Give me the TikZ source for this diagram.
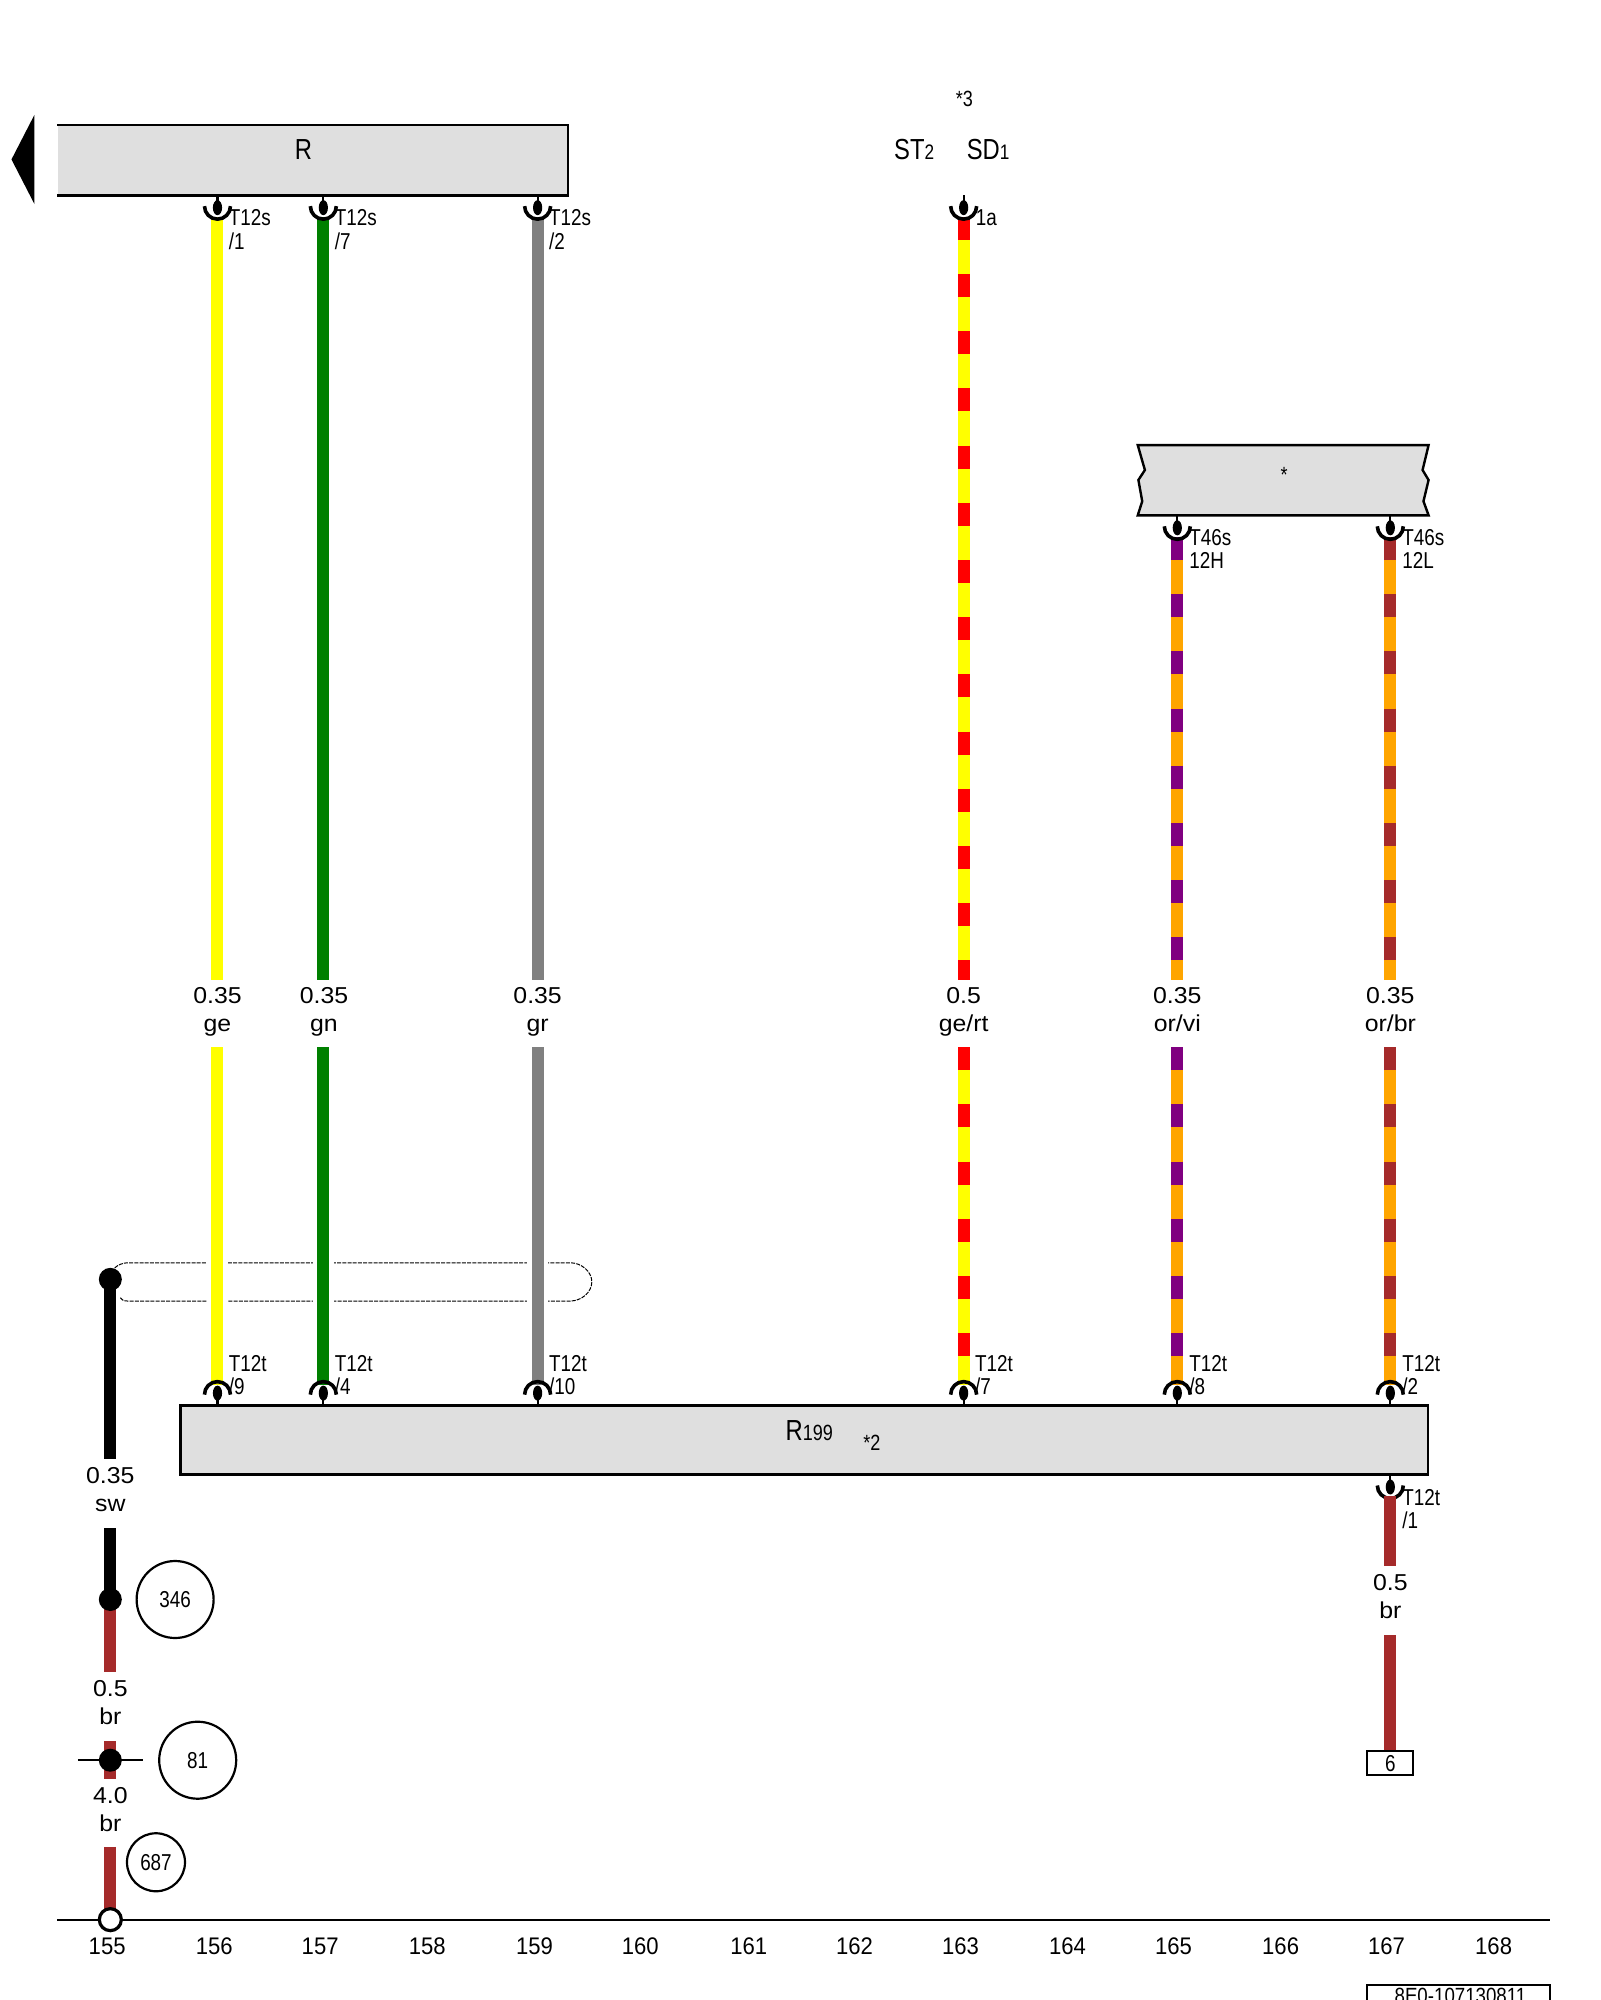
\documentclass[tikz,border=0pt]{standalone}
\usepackage{fontspec}
\setmainfont{Liberation Sans}
\newfontfamily\nf[FakeStretch=0.82]{Liberation Sans}
\newfontfamily\wf[FakeStretch=1.08]{Liberation Sans}
\newfontfamily\af[FakeStretch=0.92]{Liberation Sans}
\definecolor{boxgray}{HTML}{DFDFDF}
\definecolor{wyellow}{HTML}{FFFF00}
\definecolor{wred}{HTML}{FF0000}
\definecolor{wgreen}{HTML}{008000}
\definecolor{wgray}{HTML}{808080}
\definecolor{wpurple}{HTML}{800080}
\definecolor{worange}{HTML}{FFA500}
\definecolor{wbrown}{HTML}{A52A2A}
\tikzset{
  wire/.style={line width=12pt},
  stripes/.style={line width=12pt,dash pattern=on 23pt off 34.2pt},
  comp/.style={fill=boxgray,draw=none},
  outline/.style={line width=2.4pt,draw=black},
  txt/.style={inner sep=0pt,outer sep=0pt,text=black},
  pinlab/.style={txt,anchor=north west,align=left,font={\nf\fontsize{23}{23.2}\selectfont}},
  gaugetxt/.style={txt,anchor=base,font={\wf\fontsize{23}{23}\selectfont}},
  axistxt/.style={txt,anchor=base,font={\af\fontsize{24}{24}\selectfont}},
  bigtxt/.style={txt,anchor=base west,font={\nf\fontsize{29}{29}\selectfont}},
  smalltxt/.style={txt,anchor=base,font={\nf\fontsize{22}{22}\selectfont}},
  refcircle/.style={circle,draw=black,line width=2.2pt,inner sep=0pt,font={\nf\fontsize{23}{23}\selectfont}},
  pinstem/.style={line width=2.2pt,draw=black},
  pinarc/.style={line width=3.6pt,draw=black},
  joint/.style={circle,fill=black,inner sep=0pt,minimum size=23pt},
  shield/.style={line width=1pt,draw=black,dash pattern=on 4pt off 1.2pt}
}
% pin hanging below a component
\newcommand{\pinbelow}[3]{%
  \coordinate (#1) at (#2,#3);
  \draw[pinstem] (#1) -- ++(0pt,-11pt);
  \fill ([yshift=-12.5pt]#1) ellipse [x radius=4.6pt,y radius=7.5pt];
  \draw[pinarc] ([shift={(-13pt,-11pt)}]#1) arc[start angle=180,end angle=360,radius=13pt];
}
% pin standing on top of a component
\newcommand{\pinabove}[3]{%
  \coordinate (#1) at (#2,#3);
  \draw[pinstem] (#1) -- ++(0pt,11pt);
  \fill ([yshift=12.5pt]#1) ellipse [x radius=4.6pt,y radius=7.5pt];
  \draw[pinarc] ([shift={(-13pt,11pt)}]#1) arc[start angle=180,end angle=0,radius=13pt];
}
% #1 id, #2 x, #3 y of upper wire start, #4 base colour
\newcommand{\plainrun}[4]{%
  \coordinate (#1u) at (#2,#3);
  \coordinate (#1m) at (#2,768);
  \coordinate (#1n) at (#2,821);
  \coordinate (#1d) at (#2,1086);
  \draw[wire,#4] (#1u) -- (#1m);
  \draw[wire,#4] (#1n) -- (#1d);
}
\newcommand{\stripedrun}[5]{%
  \plainrun{#1}{#2}{#3}{#4}
  \draw[stripes,#5] (#1u) -- (#1m);
  \draw[stripes,#5] (#1n) -- (#1d);
}
\newcommand{\gauge}[5]{%
  \node[gaugetxt] (#1a) at (#2,#3) {#4};
  \node[gaugetxt] (#1b) at (#2,#3+22.3) {#5};
}
\begin{document}
\begin{tikzpicture}[x=1.2755pt,y=-1.2755pt]
\useasboundingbox (0,0) rectangle (1254.4,1568);
\clip (0,0) rectangle (1254.4,1568);
\fill[white] (0,0) rectangle (1254.4,1568);

% dashed shield, wires are cut out of it
\draw[shield] (90,994) .. controls (92,992) and (96,990) .. (100,990) -- (447,990)
  .. controls (456,990) and (464,997) .. (464,1005)
  .. controls (464,1013) and (456,1020) .. (447,1020) -- (100,1020)
  .. controls (97,1020) and (95,1019) .. (94,1017);
\foreach \xx in {170.5,253.5,421.5}{\fill[white] (\xx-8.3,984) rectangle (\xx+8.3,1026);}

% wires
\plainrun{a}{170.5}{170}{wyellow}
\plainrun{b}{253.5}{170}{wgreen}
\plainrun{c}{421.5}{170}{wgray}
\stripedrun{d}{755.5}{170}{wyellow}{wred}
\stripedrun{e}{923}{421}{worange}{wpurple}
\stripedrun{f}{1090}{421}{worange}{wbrown}

% components
\node[comp,minimum width=510.2pt,minimum height=70.2pt,inner sep=0pt,anchor=north west] (boxR) at (45,98) {};
\draw[outline] (boxR.north west) -- (boxR.north east) -- (boxR.south east) -- (boxR.south west);
\node[txt,anchor=base,font={\nf\fontsize{29}{29}\selectfont}] (lblR) at (238,125.4) {R};
\fill[black] (27,90) -- (27,160) -- (9,125) -- cycle;

\draw[comp,outline,fill=boxgray] (892,349) -- (897.6,368.5) -- (892.5,376.3) -- (895.5,393) -- (892,404)
  -- (1120,404) -- (1116,393) -- (1120,376.3) -- (1115.3,368.5) -- (1120,349) -- cycle;
\node[smalltxt] (lblStar) at (1006.7,378.6) {*};

\node[draw=black,line width=2.4pt,fill=boxgray,minimum width=1247.4pt,minimum height=69pt,inner sep=0pt,anchor=north west] (boxB) at (140.6,1101) {};
\node[bigtxt] (lblRb) at (616,1129) {R\fontsize{22}{22}\selectfont 199};
\node[smalltxt] (lblB2) at (683.5,1137) {*2};

% pins
\pinbelow{p1}{170.5}{153}
\pinbelow{p2}{253.5}{153}
\pinbelow{p3}{421.5}{153}
\pinbelow{p4}{755.5}{153}
\pinbelow{p5}{923}{404}
\pinbelow{p6}{1090}{404}
\pinabove{q1}{170.5}{1102}
\pinabove{q2}{253.5}{1102}
\pinabove{q3}{421.5}{1102}
\pinabove{q4}{755.5}{1102}
\pinabove{q5}{923}{1102}
\pinabove{q6}{1090}{1102}
\pinbelow{r1}{1090}{1156}

% upper pin labels
\node[pinlab] (t1) at (179.5,164.5) {T12s\\/1};
\node[pinlab] (t2) at (262.5,164.5) {T12s\\/7};
\node[pinlab] (t3) at (430.5,164.5) {T12s\\/2};
\node[pinlab] (t4) at (765,164.5) {1a};
\node[pinlab] (t5) at (932.5,415) {T46s\\12H};
\node[pinlab] (t6) at (1099.5,415) {T46s\\12L};
% lower pin labels
\node[pinlab] (u1) at (179.5,1062.4) {T12t\\/9};
\node[pinlab] (u2) at (262.5,1062.4) {T12t\\/4};
\node[pinlab] (u3) at (430.5,1062.4) {T12t\\/10};
\node[pinlab] (u4) at (764.5,1062.4) {T12t\\/7};
\node[pinlab] (u5) at (932.5,1062.4) {T12t\\/8};
\node[pinlab] (u6) at (1099.5,1062.4) {T12t\\/2};
\node[pinlab] (u7) at (1099.5,1167.5) {T12t\\/1};

% free labels
\node[smalltxt] (s3) at (756,83.6) {*3};
\node[bigtxt] (st) at (701,124.8) {ST\fontsize{21}{21}\selectfont 2};
\node[bigtxt] (sd) at (758,124.8) {SD\fontsize{21}{21}\selectfont 1};

% gauge and colour labels
\gauge{g1}{170.5}{786.7}{0.35}{ge}
\gauge{g2}{254}{786.7}{0.35}{gn}
\gauge{g3}{421.5}{786.7}{0.35}{gr}
\gauge{g4}{755.5}{786.7}{0.5}{ge/rt}
\gauge{g5}{923}{786.7}{0.35}{or/vi}
\gauge{g6}{1090}{786.7}{0.35}{or/br}
\gauge{g7}{86.5}{1163}{0.35}{sw}
\gauge{g8}{86.5}{1330}{0.5}{br}
\gauge{g9}{86.5}{1413.7}{4.0}{br}
\gauge{g10}{1090}{1246.7}{0.5}{br}

% left hand earth path
\coordinate (j1c) at (86.5,1003);
\coordinate (j2c) at (86.5,1254);
\coordinate (j3c) at (86.5,1380);
\coordinate (j4c) at (86.5,1505);
\coordinate (k1) at (86.5,1144);
\coordinate (k2) at (86.5,1198);
\coordinate (k3) at (86.5,1311);
\coordinate (k4) at (86.5,1365);
\coordinate (k5) at (86.5,1395);
\coordinate (k6) at (86.5,1448);
\coordinate (hl) at (61,1380);
\coordinate (hr) at (112,1380);
\coordinate (axl) at (45,1505);
\coordinate (axr) at (1215,1505);
\draw[line width=2.2pt] (axl) -- (axr);
\draw[wire,wbrown] (j2c) -- (k3);
\draw[wire,black] (j1c) -- (k1);
\draw[wire,black] (k2) -- (j2c);
\draw[wire,wbrown] (k4) -- (k5);
\draw[wire,wbrown] (k6) -- (j4c);
\draw[line width=2.4pt] (hl) -- (hr);
\node[joint] (j1) at (j1c) {};
\node[joint] (j2) at (j2c) {};
\node[joint] (j3) at (j3c) {};
\node[circle,draw=black,fill=white,line width=3.2pt,inner sep=0pt,minimum size=22pt] (j4) at (j4c) {};

% axis numbers
\foreach \num/\xx in {155/84,156/168,157/251,158/335,159/419,160/502,161/587,162/670,163/753,164/837,165/920,166/1004,167/1087,168/1171}{
  \node[axistxt] (ax\num) at (\xx,1532.5) {\num};
}

% reference circles
\node[refcircle,minimum size=77pt] (c346) at (137.3,1254) {346};
\node[refcircle,minimum size=77pt] (c81) at (155,1380) {81};
\node[refcircle,minimum size=58pt] (c687) at (122.3,1460) {687};

% lower right wire and terminal box
\coordinate (v1) at (1090,1228);
\coordinate (v2) at (1090,1282);
\node[draw=black,line width=2pt,minimum width=46pt,minimum height=24pt,inner sep=0pt,font={\nf\fontsize{23}{23}\selectfont}] (box6) at (1090,1382.5) {6};
\coordinate (r1w) at (1090,1173);
\draw[wire,wbrown] (r1w) -- (v1);
\draw[wire,wbrown] (v2) -- (box6.north);

% drawing number
\draw[line width=2.2pt] (1072,1580) -- (1072,1556) -- (1215,1556) -- (1215,1580);
\node[txt,anchor=base,font={\fontspec{Liberation Sans}[FakeStretch=0.85]\fontsize{22}{22}\selectfont}] (dn) at (1145,1570.5) {8E0-107130811};
\end{tikzpicture}
\end{document}
